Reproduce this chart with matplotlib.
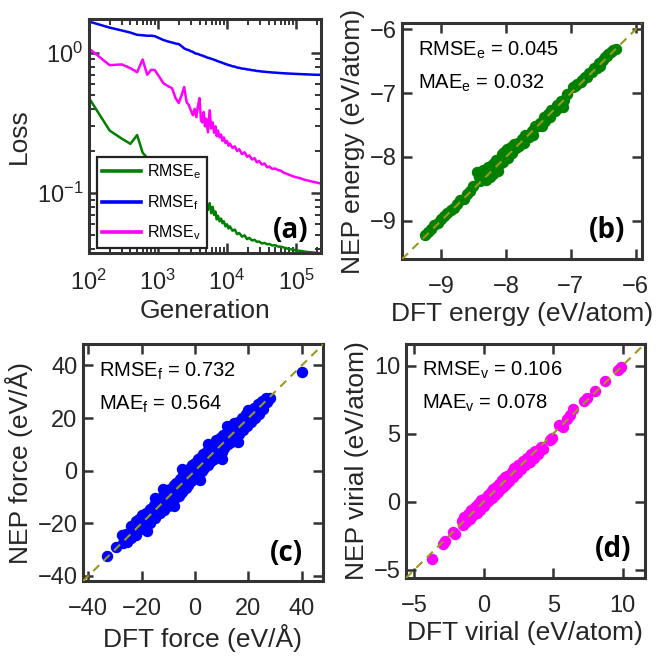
import matplotlib
matplotlib.use("Agg")
import matplotlib.pyplot as plt
from matplotlib.ticker import LogLocator

plt.rcParams['font.family'] = ['Liberation Sans', 'DejaVu Sans']
plt.rcParams['mathtext.fontset'] = 'custom'
plt.rcParams['mathtext.rm'] = 'Liberation Sans'
plt.rcParams['mathtext.it'] = 'Liberation Sans:italic'
plt.rcParams['mathtext.default'] = 'rm'

# loss.out, sampled
generation = [100, 200, 300, 400, 500, 600, 700, 800, 900, 1000,
              1200, 1400, 1600, 1800, 2000, 2200, 2400, 2600, 2800, 3000,
              3200, 3400, 3600, 3800, 4000, 4200, 4400, 4600, 4800, 5000,
              5300, 5600, 5900, 6200, 6500, 6800, 7100, 7400, 7800, 8200,
              8600, 9000, 9500, 10000, 10500, 11000, 12000, 13000, 14000, 15000,
              16500, 18000, 19500, 21000, 23000, 25000, 27000, 29000, 32000, 35000,
              38000, 41000, 45000, 50000, 55000, 60000, 66000, 72000, 80000, 90000,
              100000, 115000, 130000, 150000, 170000, 200000, 230000]
rmse_e = [0.48, 0.28, 0.245, 0.225, 0.26, 0.195, 0.178, 0.175, 0.172, 0.165,
          0.152, 0.142, 0.132, 0.125, 0.118, 0.112, 0.108, 0.104, 0.102, 0.088,
          0.096, 0.085, 0.104, 0.092, 0.088, 0.099, 0.083, 0.095, 0.080, 0.088,
          0.076, 0.085, 0.072, 0.080, 0.070, 0.074, 0.065, 0.069, 0.063, 0.066,
          0.061, 0.063, 0.058, 0.060, 0.056, 0.058, 0.054, 0.055, 0.051, 0.052,
          0.049, 0.050, 0.047, 0.048, 0.046, 0.0465, 0.045, 0.0452, 0.0438, 0.0442,
          0.0432, 0.0434, 0.0424, 0.0425, 0.0416, 0.0415, 0.041, 0.0405, 0.0398, 0.0396,
          0.039, 0.0388, 0.0384, 0.038, 0.0378, 0.0375, 0.0372]
rmse_f = [1.68, 1.52, 1.45, 1.40, 1.35, 1.34, 1.33, 1.33, 1.32, 1.29,
          1.24, 1.21, 1.19, 1.17, 1.16, 1.12, 1.08, 1.06, 1.05, 1.03,
          1.02, 1.00, 0.99, 0.985, 0.975, 0.965, 0.96, 0.95, 0.945, 0.935,
          0.925, 0.92, 0.91, 0.905, 0.895, 0.89, 0.88, 0.875, 0.865, 0.86,
          0.85, 0.845, 0.835, 0.83, 0.82, 0.818, 0.805, 0.80, 0.788, 0.785,
          0.775, 0.772, 0.765, 0.762, 0.755, 0.752, 0.745, 0.744, 0.738, 0.736,
          0.732, 0.731, 0.727, 0.725, 0.722, 0.72, 0.718, 0.716, 0.714, 0.712,
          0.71, 0.708, 0.706, 0.704, 0.702, 0.70, 0.70]
rmse_v = [1.08, 0.82, 0.83, 0.78, 0.73, 0.90, 0.70, 0.76, 0.756, 0.70,
          0.61, 0.58, 0.562, 0.477, 0.44, 0.50, 0.572, 0.447, 0.425, 0.39,
          0.36, 0.40, 0.349, 0.42, 0.477, 0.33, 0.32, 0.38, 0.30, 0.34,
          0.272, 0.391, 0.29, 0.32, 0.27, 0.30, 0.255, 0.28, 0.25, 0.262,
          0.236, 0.25, 0.228, 0.236, 0.218, 0.226, 0.21, 0.216, 0.20, 0.206,
          0.19, 0.196, 0.182, 0.186, 0.174, 0.178, 0.166, 0.17, 0.16, 0.163,
          0.153, 0.155, 0.149, 0.15, 0.146, 0.145, 0.14, 0.138, 0.135, 0.132,
          0.13, 0.128, 0.125, 0.123, 0.121, 0.119, 0.117]

# energy_train.out (eV/atom)
energy_dft = [-9.25, -9.2, -9.15, -9.1, -9.05, -9.0, -8.95, -8.9, -8.85, -8.8,
              -8.75, -8.7, -8.65, -8.6, -8.55, -8.5,
              -8.44, -8.42, -8.4, -8.38, -8.36, -8.35, -8.33, -8.3, -8.3, -8.28,
              -8.27, -8.25, -8.24, -8.22, -8.2, -8.2, -8.18, -8.16, -8.15, -8.13,
              -8.12, -8.1, -8.08, -8.06, -8.05, -8.03, -8.02, -8.0, -7.98, -7.97,
              -7.95, -7.92, -7.9, -7.88, -7.85, -7.82,
              -7.8, -7.75, -7.72, -7.7, -7.65, -7.6, -7.58, -7.55, -7.5, -7.47,
              -7.45, -7.42, -7.4, -7.35, -7.32, -7.3, -7.25, -7.22, -7.2, -7.15,
              -7.12, -7.1, -7.06,
              -6.97, -6.93, -6.9, -6.85, -6.82, -6.78, -6.75, -6.72, -6.68, -6.65,
              -6.6, -6.57, -6.55, -6.5, -6.48, -6.45, -6.42, -6.38, -6.35, -6.3]
energy_nep = [-9.22, -9.17, -9.13, -9.06, -9.03, -8.97, -8.93, -8.88, -8.83, -8.8,
              -8.74, -8.68, -8.66, -8.58, -8.53, -8.46,
              -8.23, -8.32, -8.38, -8.28, -8.35, -8.2, -8.3, -8.22, -8.36, -8.15,
              -8.27, -8.2, -8.32, -8.12, -8.2, -8.26, -8.1, -8.18, -8.05, -8.14,
              -8.22, -8.04, -8.1, -7.96, -8.08, -7.92, -8.02, -7.95, -7.88, -8.02,
              -7.9, -7.85, -7.93, -7.8, -7.86, -7.78,
              -7.82, -7.72, -7.78, -7.66, -7.68, -7.6, -7.66, -7.52, -7.52, -7.46,
              -7.52, -7.38, -7.44, -7.32, -7.38, -7.26, -7.28, -7.18, -7.24, -7.12,
              -7.22, -7.1, -7.02,
              -6.91, -6.88, -6.86, -6.83, -6.79, -6.75, -6.74, -6.69, -6.67, -6.6,
              -6.6, -6.53, -6.57, -6.48, -6.44, -6.42, -6.38, -6.36, -6.32, -6.31]

# force_train.out (eV/A)
force_dft = [-33, -29.5, -27.5, -27, -26, -25.5, -24, -24, -23, -22,
             -22, -21, -20.5, -20, -19, -18.5, -18, -17, -17, -16,
             -15.5, -15, -14, -14, -13, -12.5, -12, -11.5, -11, -10.5,
             -10, -9.5, -9, -8.5, -8, -8, -7.5, -7, -6.5, -6,
             -5.5, -5, -5, -4.5, -4, -3.5, -3, -3, -2.5, -2,
             -2, -1.5, -1, -1, -0.5, 0, 0, 0.5, 0.5, 1,
             1.5, 1.5, 2, 2.5, 3, 3, 3.5, 4, 4.5, 5,
             5, 5.5, 6, 6.5, 7, 7, 7.5, 8, 8.5, 9,
             9.5, 10, 10, 10.5, 11, 11.5, 12, 12.5, 13, 13,
             13.5, 14, 14.5, 15, 15.5, 16, 16.5, 17, 17.5, 18,
             18.5, 19, 19.5, 20, 20, 21, 21.5, 22, 22.5, 23,
             23.5, 24, 24.5, 25, 25.5, 26, 26.5, 27, 28, 40,
             -15, -5, 5, 12, -18, -8, 2, 10, -12, 16]
force_nep = [-32.5, -29, -24.5, -27.5, -24, -27, -21, -25.5, -22.5, -19,
             -24.5, -18.5, -22, -17, -21.5, -16, -19, -14.5, -20, -16.5,
             -13, -18, -12, -15.5, -16, -10, -13, -15, -8.5, -11,
             -13.5, -7, -10, -12, -5.5, -8.5, -10.5, -4.5, -7, -9.5,
             -3, -5.5, -8, -1.5, -4, -6.5, -0.5, -3, -5.5, 1,
             -2, -4, 2, -0.5, -3, 3, 0, -2.5, 1.5, 4.5,
             -1, 2, 5, 0, 3, 6.5, 1, 4, 7.5, 2,
             5.5, 9, 3.5, 6.5, 10, 4.5, 7.5, 11.5, 5.5, 9,
             12.5, 7, 10.5, 13.5, 8.5, 11.5, 14.5, 10, 13, 16.5,
             11, 14.5, 18, 12, 15.5, 18.5, 14, 17, 20, 15.5,
             18.5, 21.5, 17, 20, 23, 18.5, 22, 24, 20, 23,
             25.5, 21.5, 24, 26.5, 23.5, 25.5, 27.5, 26, 27.5, 37.5,
             -10.5, 0.5, 10, 17, -23, -13.5, -3.5, 4.5, -7, 11]

# virial_train.out (eV/atom)
virial_dft = [-3.75, -2.9, -2.8, -2.2, -2.1, -1.6, -1.5, -1.4, -1.3, -1.1,
              -1.0, -0.9, -0.8, -0.6, -0.5, -0.4, -0.3, -0.2, 0.0, 0.0,
              0.2, 0.3, 0.4, 0.5, 0.6, 0.7, 0.8, 0.9, 1.0, 1.1,
              1.2, 1.3, 1.4, 1.5, 1.6, 1.7, 1.8, 2.0, 2.1, 2.2,
              2.4, 2.5, 2.7, 2.8, 3.0, 3.1, 3.3, 3.4, 3.6, 3.7,
              3.9, 4.1, 4.3, 4.8, 4.9, 5.4, 5.7, 6.0, 6.2, 6.4,
              7.2, 7.4, 8.0, 8.7, 9.7, 9.9]
virial_nep = [-4.2, -3.1, -2.9, -2.2, -2.4, -1.4, -1.7, -1.1, -1.5, -0.9,
              -1.3, -0.6, -1.0, -0.4, -0.8, -0.2, -0.6, 0.1, -0.3, 0.2,
              0.0, 0.5, 0.1, 0.7, 0.3, 0.9, 0.5, 1.1, 0.7, 1.3,
              0.9, 1.6, 1.1, 1.8, 1.3, 1.9, 1.5, 2.2, 1.8, 2.5,
              2.1, 2.7, 2.4, 3.0, 2.7, 3.2, 2.9, 3.5, 3.2, 3.7,
              3.5, 4.0, 3.9, 4.5, 4.7, 5.6, 5.5, 6.1, 6.4, 6.8,
              7.4, 7.6, 8.1, 8.9, 9.7, 9.9]

frame_col = '#333333'
text_col = '#262626'
diag_col = '#9a9a1a'
green, blue, magenta = '#008000', '#0000ff', '#ff00ff'

fig = plt.figure(figsize=(6.58, 6.56), dpi=100)
ax_a = fig.add_axes([0.135, 0.614, 0.353, 0.357])
ax_b = fig.add_axes([0.611, 0.605, 0.365, 0.360])
ax_c = fig.add_axes([0.126, 0.114, 0.365, 0.361])
ax_d = fig.add_axes([0.617, 0.119, 0.363, 0.357])


def style(ax):
    for s in ax.spines.values():
        s.set_linewidth(2.2)
        s.set_color(frame_col)
    ax.tick_params(which='major', direction='in', length=7, width=1.8,
                   top=True, right=True, labelsize=17, colors=frame_col,
                   labelcolor=text_col)
    ax.tick_params(axis='x', which='major', pad=12)
    ax.tick_params(axis='y', which='major', pad=4)
    ax.tick_params(which='minor', direction='in', length=4, width=1.4,
                   top=True, right=True, colors=frame_col)


# (a) loss curves
ax_a.loglog(generation, rmse_e, color=green, lw=1.8, label=r'RMSE$_{e}$')
ax_a.loglog(generation, rmse_f, color=blue, lw=1.8, label=r'RMSE$_{f}$')
ax_a.loglog(generation, rmse_v, color=magenta, lw=1.8, label=r'RMSE$_{v}$')
ax_a.set_xlim(100, 230000)
ax_a.set_ylim(0.0373, 1.75)
ax_a.xaxis.set_major_locator(LogLocator(base=10, numticks=12))
ax_a.xaxis.set_minor_locator(LogLocator(base=10, subs=range(2, 10), numticks=12))
ax_a.set_xlabel('Generation', fontsize=19, color=text_col, labelpad=3)
ax_a.set_ylabel('Loss', fontsize=19, color=text_col, labelpad=4)
style(ax_a)
leg = ax_a.legend(loc='lower left', bbox_to_anchor=(0.034, 0.022), fontsize=11.5,
                  frameon=True, fancybox=False, handlelength=2.4,
                  borderpad=0.35, labelspacing=0.75, handletextpad=0.4,
                  borderaxespad=0)
leg.get_frame().set_edgecolor('#222222')
leg.get_frame().set_linewidth(1.6)
leg.get_frame().set_alpha(1)
for h in leg.get_lines():
    h.set_linewidth(2.6)
ax_a.text(0.945, 0.098, '(a)', transform=ax_a.transAxes, ha='right', va='center',
          fontsize=20, fontweight='bold', family='Open Sans', color='black')

# parity panels
panels = [
    (ax_b, energy_dft, energy_nep, green, (-9.6, -5.9), [-9, -8, -7, -6],
     'DFT energy (eV/atom)', 'NEP energy (eV/atom)',
     r'RMSE$_{e}$ = 0.045', r'MAE$_{e}$ = 0.032', '(b)', 0.93, 0.123),
    (ax_c, force_dft, force_nep, blue, (-42, 48), [-40, -20, 0, 20, 40],
     'DFT force (eV/Å)', 'NEP force (eV/Å)',
     r'RMSE$_{f}$ = 0.732', r'MAE$_{f}$ = 0.564', '(c)', 0.915, 0.118),
    (ax_d, virial_dft, virial_nep, magenta, (-5.6, 11.6), [-5, 0, 5, 10],
     'DFT virial (eV/atom)', 'NEP virial (eV/atom)',
     r'RMSE$_{v}$ = 0.106', r'MAE$_{v}$ = 0.078', '(d)', 0.945, 0.12),
]
for ax, xd, yd, col, lim, ticks, xl, yl, t1, t2, tag, tx, ty in panels:
    ax.plot(xd, yd, 'o', color=col, ms=7.2, mec=col, zorder=2)
    ax.plot(lim, lim, '--', color=diag_col, lw=1.5, dashes=(4, 3), zorder=3)
    ax.set_xlim(lim)
    ax.set_ylim(lim)
    ax.set_xticks(ticks)
    ax.set_yticks(ticks)
    ax.set_xlabel(xl, fontsize=19, color=text_col, labelpad=3)
    ax.set_ylabel(yl, fontsize=19, color=text_col, labelpad=3)
    style(ax)
    ax.text(0.065, 0.885, t1, transform=ax.transAxes, ha='left', va='center',
            fontsize=14.5, color='black')
    ax.text(0.065, 0.745, t2, transform=ax.transAxes, ha='left', va='center',
            fontsize=14.5, color='black')
    ax.text(tx, ty, tag, transform=ax.transAxes, ha='right', va='center',
            fontsize=20, fontweight='bold', family='Open Sans', color='black')

fig.savefig('out.png', dpi=100)
